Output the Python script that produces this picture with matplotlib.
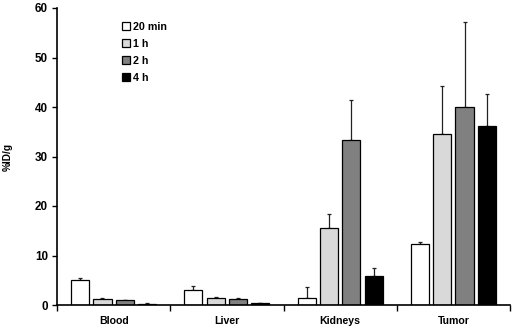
import numpy as np
import matplotlib
matplotlib.use("Agg")
import matplotlib.pyplot as plt

# -----------------------
# Data
# -----------------------
organs = ["Blood", "Liver", "Kidneys", "Tumor"]
timepoints = ["20 min", "1 h", "2 h", "4 h"]

uptake_20min = [5.1, 3.1, 1.5, 12.4]
uptake_1h = [1.2, 1.5, 15.6, 34.5]
uptake_2h = [1.0, 1.2, 33.4, 40.1]
uptake_4h = [0.3, 0.4, 5.8, 36.2]

err_20min = [0.4, 0.8, 2.2, 0.4]
err_1h = [0.2, 0.1, 2.8, 9.8]
err_2h = [0.1, 0.3, 8.1, 17.0]
err_4h = [0.1, 0.1, 1.6, 6.4]

series = [uptake_20min, uptake_1h, uptake_2h, uptake_4h]
errors = [err_20min, err_1h, err_2h, err_4h]
colors = ["#ffffff", "#d9d9d9", "#808080", "#000000"]

plt.rcParams.update({
    "font.family": "Liberation Sans",
    "font.size": 7.6,
    "font.weight": "bold",
})

fig = plt.figure(figsize=(5.12, 3.26), dpi=100)
ax = fig.add_axes([57 / 512, 21 / 326, 453 / 512, 297 / 326])

x = np.arange(len(organs))
width = 0.16
step = 0.197

for i, (vals, errs, col, lab) in enumerate(zip(series, errors, colors, timepoints)):
    pos = x + (i - 1.5) * step
    ax.bar(pos, vals, width, color=col, edgecolor="black", linewidth=0.9,
           label=lab, zorder=2)
    ax.errorbar(pos, vals, yerr=[np.zeros(len(errs)), errs], fmt="none",
                ecolor="#222222", elinewidth=0.9, capsize=1.6, capthick=0.9,
                zorder=1)

# -----------------------
# Axes styling
# -----------------------
ax.set_xlim(-0.5, 3.5)
ax.set_ylim(0, 60)
ax.set_yticks([0, 10, 20, 30, 40, 50, 60])
ax.set_xticks(np.arange(-0.5, 4.0, 1.0))
ax.set_xticklabels([])
ax.set_xticks(x, minor=True)
ax.set_xticklabels(organs, minor=True, fontweight="bold", fontsize=7.6)
ax.tick_params(axis="x", which="minor", length=0, pad=8)
ax.tick_params(axis="x", which="major", length=4, width=1, direction="out")
ax.tick_params(axis="y", length=3.5, width=1, direction="out", labelsize=8.4,
               pad=3)

for lbl in ax.get_yticklabels():
    lbl.set_fontweight("bold")

ax.spines["top"].set_visible(False)
ax.spines["right"].set_visible(False)
ax.spines["left"].set_linewidth(1.2)
ax.spines["bottom"].set_linewidth(1.2)

ax.set_ylabel("%ID/g", fontsize=7.3, fontweight="bold", labelpad=16)

ax.legend(loc="upper left", bbox_to_anchor=(0.123, 0.985), frameon=False,
          handlelength=0.75, handleheight=0.75, handletextpad=0.2,
          labelspacing=0.65, prop={"weight": "bold", "size": 7.7})

plt.savefig("out.png", dpi=100)
